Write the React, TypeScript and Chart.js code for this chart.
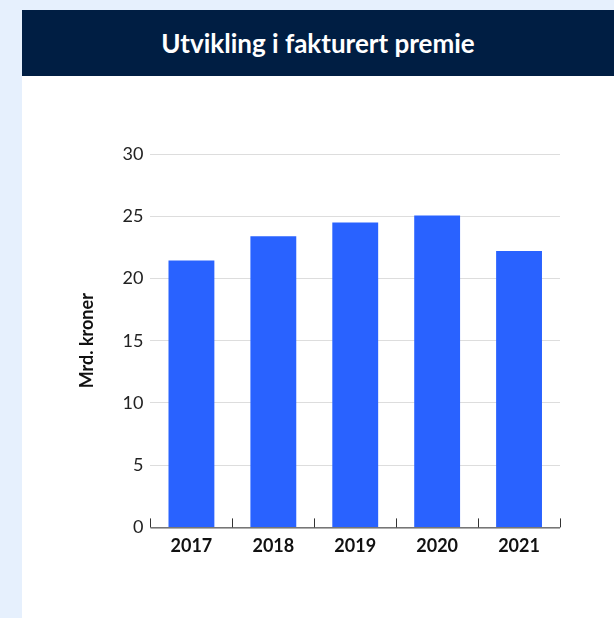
import React, { useEffect, useRef } from "react";
import { Chart, registerables } from "chart.js";

Chart.register(...registerables);

const categories = ["2017", "2018", "2019", "2020", "2021"];
const premie = [21.45, 23.4, 24.5, 25.05, 22.2];
const yTicks = [0, 5, 10, 15, 20, 25, 30];
const titleText = "Utvikling i fakturert premie";
const yAxisTitle = "Mrd. kroner";

const FONT = "Lato, 'Noto Sans', sans-serif";

const boundaryTicks = {
  id: "boundaryTicks",
  afterDatasetsDraw(chart: any) {
    const xs = chart.scales.x;
    const ctx = chart.ctx;
    const n = chart.data.labels.length;
    const step = n > 1 ? xs.getPixelForValue(1) - xs.getPixelForValue(0) : xs.width;
    const base = chart.chartArea.bottom;
    ctx.save();
    ctx.strokeStyle = "#333333";
    ctx.lineWidth = 1;
    ctx.beginPath();
    for (let i = 0; i <= n; i++) {
      const x = Math.round(xs.getPixelForValue(i) - step / 2) + 0.5;
      ctx.moveTo(x, base - 9);
      ctx.lineTo(x, base);
    }
    ctx.moveTo(xs.left, base + 0.5);
    ctx.lineTo(xs.right, base + 0.5);
    ctx.stroke();
    ctx.restore();
  },
};

export default function App() {
  const ref = useRef<HTMLCanvasElement | null>(null);
  useEffect(() => {
    if (!ref.current) return;
    const chart = new Chart(ref.current, {
      type: "bar",
      data: {
        labels: categories,
        datasets: [
          {
            data: premie,
            backgroundColor: "#2962ff",
            categoryPercentage: 0.56,
            barPercentage: 1,
          },
        ],
      },
      options: {
        animation: false,
        responsive: false,
        maintainAspectRatio: false,
        layout: { padding: { left: 54, right: 54, top: 78, bottom: 61 } },
        plugins: { legend: { display: false }, tooltip: { enabled: false } },
        scales: {
          x: {
            grid: { display: false },
            border: { display: false },
            ticks: {
              color: "#111111",
              font: { family: FONT, size: 18, weight: "bold" },
              padding: 0,
            },
          },
          y: {
            min: 0,
            max: 30,
            afterBuildTicks: (s: any) => {
              s.ticks = yTicks.map((v) => ({ value: v }));
            },
            grid: { color: "#dddddd", drawTicks: false },
            border: { display: false },
            ticks: {
              color: "#222222",
              font: { family: FONT, size: 18 },
              padding: 7,
            },
            title: {
              display: true,
              text: yAxisTitle,
              color: "#111111",
              font: { family: FONT, size: 18, weight: "bold" },
              padding: { top: 0, bottom: 18 },
            },
          },
        },
      },
      plugins: [boundaryTicks],
    });
    return () => chart.destroy();
  }, []);

  return (
    <div
      style={{
        position: "fixed",
        left: 0,
        top: 0,
        width: 614,
        height: 618,
        background: "#e6f0fd",
        overflow: "hidden",
      }}
    >
      <div
        style={{
          position: "absolute",
          left: 22,
          top: 10,
          width: 592,
          height: 608,
          background: "#ffffff",
        }}
      >
        <div
          style={{
            height: 66,
            background: "#001e43",
            color: "#ffffff",
            display: "flex",
            alignItems: "center",
            justifyContent: "center",
            fontFamily: FONT,
            fontWeight: 700,
            fontSize: 26,
          }}
        >
          {titleText}
        </div>
        <canvas ref={ref} width={592} height={542} style={{ display: "block" }} />
      </div>
    </div>
  );
}
